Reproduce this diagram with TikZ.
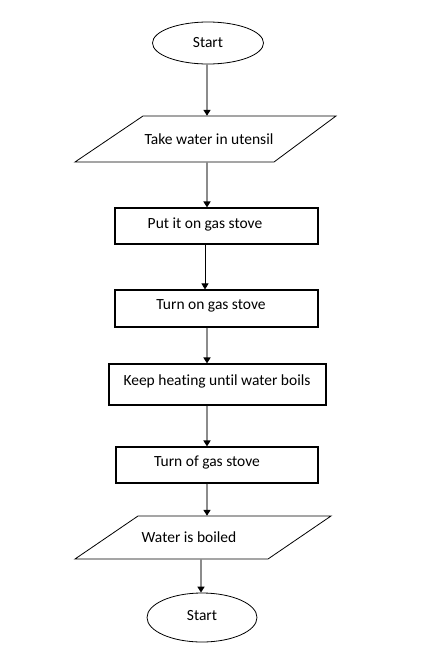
\documentclass[tikz,border=0pt]{standalone}
\usepackage{fontspec}
\setmainfont[Ligatures=NoCommon]{Carlito}
\usetikzlibrary{arrows.meta,shapes.geometric}
\begin{document}
\begin{tikzpicture}[x=1pt,y=-1pt,
  box/.style={draw=black,line width=1.1pt,minimum width=#1,inner sep=0pt},
  term/.style={draw=black,ellipse,line width=0.8pt,minimum width=111pt,minimum height=42pt,inner sep=0pt},
  io/.style={minimum width=#1,minimum height=0pt,inner sep=0pt},
  lbl/.style={font=\fontsize{15.5}{17}\selectfont,inner sep=0pt},
  garr/.style={draw=gray!90,line width=2.4pt,-{Triangle[length=6pt,width=7pt,color=black]}},
  barr/.style={draw=black,line width=0.9pt,-{Triangle[length=6pt,width=7pt]}},
  shape1/.style={draw=black,line width=0.8pt}]
\useasboundingbox[fill=white] (0,0) rectangle (439,670);
% start
\node[term] (s) at (208,43) {};
\node[lbl] at (208,43) {Start};
% parallelogram 1
\node[io=193pt,minimum height=46pt] (p1) at (208,139) {};
\coordinate (p1a) at (143,116);
\coordinate (p1b) at (336,116);
\coordinate (p1c) at (274,162);
\coordinate (p1d) at (75,162);
\draw[shape1] (p1a) -- (p1b) -- (p1c) -- (p1d) -- cycle;
\node[lbl] at (209,139) {Take water in utensil};
% boxes
\node[box=203pt,minimum height=36pt] (b1) at (216.5,226) {};
\node[lbl] at (205,224) {Put it on gas stove};
\node[box=203pt,minimum height=37pt] (b2) at (216.5,308.5) {};
\node[lbl] at (211,306) {Turn on gas stove};
\node[box=217pt,minimum height=41pt] (b3) at (217.5,384.5) {};
\node[lbl] at (217,381) {Keep heating until water boils};
\node[box=202pt,minimum height=36pt] (b4) at (217,465) {};
\node[lbl] at (207,463) {Turn of gas stove};
% parallelogram 2
\node[io=193pt,minimum height=43pt] (p2) at (202,537.5) {};
\coordinate (p2a) at (138,516);
\coordinate (p2b) at (331,516);
\coordinate (p2c) at (268,559);
\coordinate (p2d) at (75,559);
\draw[shape1] (p2a) -- (p2b) -- (p2c) -- (p2d) -- cycle;
\node[lbl] at (189,537) {Water is boiled};
% end
\node[term,minimum width=110pt,minimum height=49pt] (e) at (202,617.5) {};
\node[lbl] at (202,616) {Start};
% arrows
\draw[garr] (s.south -| 207,0) -- (p1.north -| 207,0);
\draw[garr] (p1.south -| 207,0) -- (b1.north -| 207,0);
\draw[barr] (b1.south -| 205,0) -- (b2.north -| 205,0);
\draw[garr] (b2.south -| 207,0) -- (b3.north -| 207,0);
\draw[garr] (b3.south -| 207,0) -- (b4.north -| 207,0);
\draw[garr] (b4.south -| 207,0) -- (p2.north -| 207,0);
\draw[garr] (p2.south -| 201,0) -- (e.north -| 201,0);
\end{tikzpicture}
\end{document}
